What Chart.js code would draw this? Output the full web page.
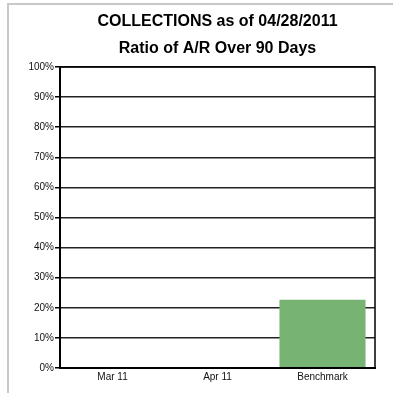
<!DOCTYPE html>
<html>
<head>
<meta charset="utf-8">
<script src="https://cdn.jsdelivr.net/npm/chart.js@4/dist/chart.umd.min.js"></script>
<style>
    html, body { margin: 0; padding: 0; background: #fff; }
    #wrap { position: relative; width: 393px; height: 394px; overflow: hidden; }
    #chart { position: absolute; left: 0; top: 0; }
    .edge { position: absolute; background: #c8c8c8; }
    #edgeTop { left: 8px; top: 3px; width: 385px; height: 2px; }
    #edgeLeft { left: 7px; top: 3px; width: 2px; height: 390px; }
</style>
</head>
<body>
<div id="wrap">
    <canvas id="chart" width="393" height="394"></canvas>
    <div class="edge" id="edgeTop"></div>
    <div class="edge" id="edgeLeft"></div>
</div>
<script>
// Chart data
const titleLines = ['COLLECTIONS as of 04/28/2011', 'Ratio of A/R Over 90 Days'];
const categories = ['Mar 11', 'Apr 11', 'Benchmark'];
const ratioValues = [0, 0, 22.7];
const yTickMin = 0;
const yTickMax = 100;
const yTickStep = 10;

Chart.defaults.font.family = "'Liberation Sans', Arial, sans-serif";
Chart.defaults.color = '#000';

// black frame round the plot area
const framePlugin = {
    id: 'frame',
    afterDraw(chart) {
        const { ctx, chartArea: a } = chart;
        ctx.save();
        ctx.strokeStyle = '#000';
        ctx.lineWidth = 1.5;
        ctx.strokeRect(a.left, a.top, a.right - a.left, a.bottom - a.top);
        ctx.lineWidth = 2;
        ctx.beginPath();
        ctx.moveTo(a.left, a.top);
        ctx.lineTo(a.left, a.bottom);
        ctx.lineTo(a.right, a.bottom);
        ctx.stroke();
        ctx.restore();
    }
};

new Chart(document.getElementById('chart'), {
    type: 'bar',
    data: {
        labels: categories,
        datasets: [{
            label: 'Ratio of A/R Over 90 Days',
            data: ratioValues,
            backgroundColor: '#77b473',
            borderWidth: 0,
            barPercentage: 0.82,
            categoryPercentage: 1
        }]
    },
    options: {
        responsive: false,
        animation: false,
        devicePixelRatio: 1,
        layout: { padding: { top: 0, right: 18, bottom: 8, left: 0 } },
        plugins: {
            legend: { display: false },
            tooltip: { enabled: false },
            title: {
                display: true,
                text: titleLines,
                fullSize: false,
                color: '#000',
                font: { size: 16, weight: 'bold', lineHeight: 27 / 16 },
                padding: { top: 8, bottom: 5 }
            }
        },
        scales: {
            x: {
                grid: { display: false, drawTicks: false },
                border: { display: true, color: '#000', width: 2 },
                ticks: { padding: 3, color: '#111', font: { size: 10 } }
            },
            y: {
                min: yTickMin,
                max: yTickMax,
                grid: { color: '#222', lineWidth: 1.5, tickLength: 5, tickColor: '#000' },
                border: { display: true, color: '#000', width: 2 },
                ticks: {
                    stepSize: yTickStep,
                    padding: 1,
                    color: '#111',
                    font: { size: 10 },
                    callback: (v) => v + '%'
                },
                afterFit: (scale) => { scale.width = 60; }
            }
        }
    },
    plugins: [framePlugin]
});
</script>
</body>
</html>
